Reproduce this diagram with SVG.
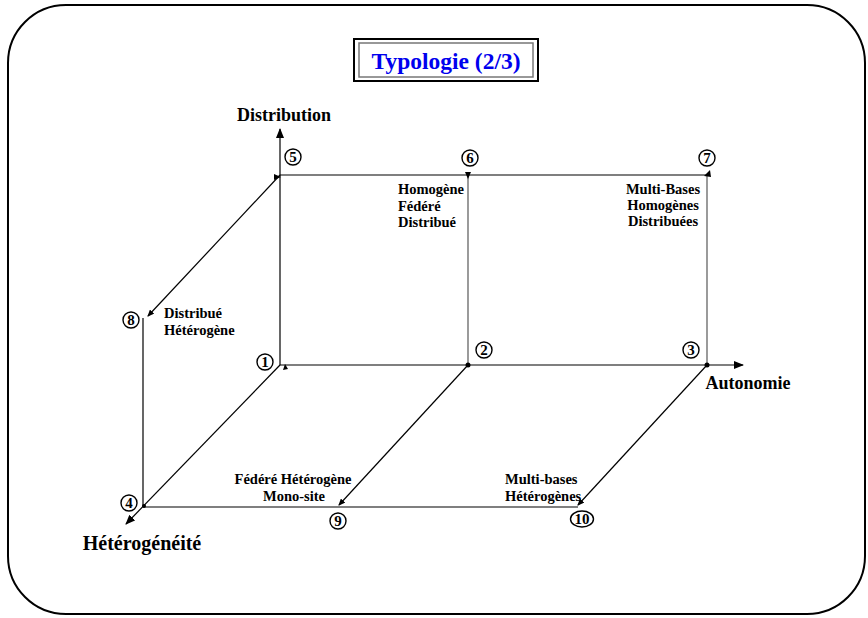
<svg xmlns="http://www.w3.org/2000/svg" width="868" height="618" viewBox="0 0 868 618">
  <style>
    .lbl { font-family: "Liberation Serif", "Times New Roman", serif; font-weight: bold; font-size: 14.5px; fill: #000; }
    .axis { font-family: "Liberation Serif", "Times New Roman", serif; font-weight: bold; font-size: 18px; fill: #000; }
    .axis.big { font-size: 20px; }
    .num { font-family: "Liberation Serif", "Times New Roman", serif; font-weight: bold; font-size: 15px; fill: #000; text-anchor: middle; }
    .ring { fill: #fff; stroke: #000; stroke-width: 1.4; }
    .ln { stroke: #000; stroke-width: 1.2; fill: none; }
    .gr { stroke: #707070; stroke-width: 1.4; fill: none; }
  </style>
  <defs>
    <marker id="arr" markerWidth="10" markerHeight="8" refX="9" refY="4" orient="auto" markerUnits="userSpaceOnUse">
      <path d="M0,0 L10,4 L0,8 Z" fill="#000"/>
    </marker>
    <marker id="tip" markerWidth="7" markerHeight="6" refX="6" refY="3" orient="auto" markerUnits="userSpaceOnUse">
      <path d="M0,0 L7,3 L0,6 Z" fill="#000"/>
    </marker>
  </defs>

  <rect width="868" height="618" fill="#fff"/>
  <!-- frame -->
  <rect x="8" y="5" width="857" height="609" rx="58" ry="58" fill="none" stroke="#000" stroke-width="2"/>

  <!-- title -->
  <g id="title">
    <rect x="354" y="39" width="184" height="42" fill="#fff" stroke="#000" stroke-width="2"/>
    <rect x="359" y="43" width="174" height="34" fill="none" stroke="#777" stroke-width="1.5"/>
    <text x="446" y="69" text-anchor="middle" font-family="Liberation Serif, serif" font-weight="bold" font-size="23.5" fill="#0000ee">Typologie (2/3)</text>
  </g>

  <!-- connectors -->
  <g id="connectors">
    <line class="ln" x1="280" y1="365" x2="280" y2="129" marker-end="url(#arr)"/>
    <line class="ln" x1="280" y1="365" x2="743" y2="365" marker-end="url(#arr)"/>
    <line class="ln" x1="280" y1="365" x2="126" y2="524" stroke-width="1.6" marker-end="url(#arr)"/>
    <line class="ln" x1="280" y1="175" x2="707" y2="175"/>
    <line class="gr" x1="468" y1="175" x2="468" y2="365"/>
    <line class="gr" x1="707" y1="175" x2="707" y2="365"/>
    <line class="ln" x1="280" y1="175" x2="148" y2="316" marker-end="url(#tip)"/>
    <line class="ln" x1="143" y1="318" x2="143" y2="507"/>
    <line class="ln" x1="143" y1="507" x2="578" y2="507"/>
    <line class="ln" x1="468" y1="365" x2="339" y2="505" marker-end="url(#tip)"/>
    <line class="ln" x1="707" y1="365" x2="578" y2="505" marker-end="url(#tip)"/>
    <!-- small end marks -->
    <path d="M274,174 L281,177 L274,180 Z" fill="#000"/>
    <path d="M465,172 L471,172 L468,179 Z" fill="#000"/>
    <path d="M704,176 L710,170 L711,177 Z" fill="#000"/>
    <path d="M283,370 L285,364 L288,369 Z" fill="#000"/>
    <circle cx="468" cy="365" r="2.5" fill="#000"/>
    <circle cx="707" cy="365" r="2.5" fill="#000"/>
    <circle cx="144" cy="506" r="2" fill="#000"/>
  </g>

  <!-- nodes -->
  <g id="n1"><circle class="ring" cx="265" cy="362" r="8"/><text class="num" x="265" y="367">1</text></g>
  <g id="n2"><circle class="ring" cx="484" cy="350" r="8"/><text class="num" x="484" y="355">2</text></g>
  <g id="n3"><circle class="ring" cx="691" cy="350" r="8"/><text class="num" x="691" y="355">3</text></g>
  <g id="n4"><circle class="ring" cx="129" cy="503" r="8"/><text class="num" x="129" y="508">4</text></g>
  <g id="n5"><circle class="ring" cx="293" cy="157" r="8"/><text class="num" x="293" y="162">5</text></g>
  <g id="n6"><circle class="ring" cx="470" cy="158" r="8"/><text class="num" x="470" y="163">6</text></g>
  <g id="n7"><circle class="ring" cx="707" cy="158" r="8"/><text class="num" x="707" y="163">7</text></g>
  <g id="n8"><circle class="ring" cx="131" cy="320" r="8"/><text class="num" x="131" y="325">8</text></g>
  <g id="n9"><circle class="ring" cx="338" cy="521" r="8"/><text class="num" x="338" y="526">9</text></g>
  <g id="n10"><ellipse class="ring" cx="582" cy="519" rx="11.5" ry="8"/><text class="num" x="582" y="524">10</text></g>

  <!-- axis titles -->
  <g id="ax-distribution"><text class="axis" x="284" y="121" text-anchor="middle">Distribution</text></g>
  <g id="ax-autonomie"><text class="axis" x="748" y="389" text-anchor="middle">Autonomie</text></g>
  <g id="ax-heterogeneite"><text class="axis big" x="142" y="550" text-anchor="middle">Hétérogénéité</text></g>

  <!-- category labels -->
  <g id="lbl-hfd">
    <text class="lbl" x="398" y="194">Homogène</text>
    <text class="lbl" x="398" y="211">Fédéré</text>
    <text class="lbl" x="398" y="227">Distribué</text>
  </g>
  <g id="lbl-mbhd" text-anchor="middle">
    <text class="lbl" x="663" y="194">Multi-Bases</text>
    <text class="lbl" x="663" y="210">Homogènes</text>
    <text class="lbl" x="663" y="226">Distribuées</text>
  </g>
  <g id="lbl-dh">
    <text class="lbl" x="164" y="318">Distribué</text>
    <text class="lbl" x="164" y="335">Hétérogène</text>
  </g>
  <g id="lbl-fhm" text-anchor="middle">
    <text class="lbl" x="293" y="484">Fédéré Hétérogène</text>
    <text class="lbl" x="294" y="501">Mono-site</text>
  </g>
  <g id="lbl-mbh">
    <text class="lbl" x="505" y="484">Multi-bases</text>
    <text class="lbl" x="505" y="501">Hétérogènes</text>
  </g>
</svg>
